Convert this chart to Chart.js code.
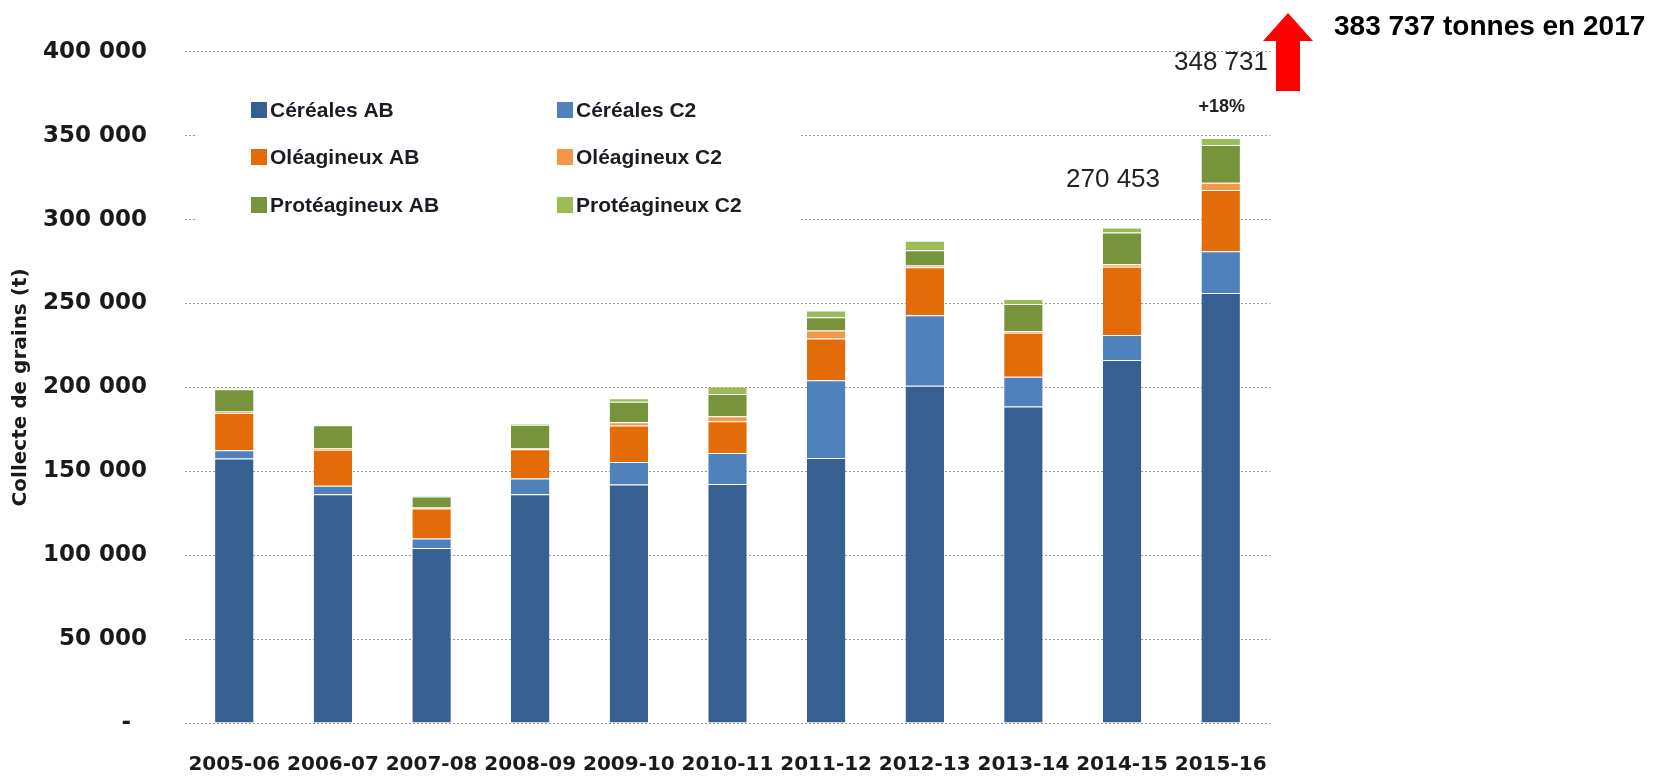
<!DOCTYPE html>
<html>
<head>
<meta charset="utf-8">
<script src="https://cdn.jsdelivr.net/npm/chart.js@4.4.0/dist/chart.umd.min.js"></script>
<style>
  html, body { margin: 0; padding: 0; background: #fff; }
  #wrap { width: 1664px; height: 778px; }
</style>
</head>
<body>
<div id="wrap"><canvas id="collecte" width="1664" height="778"></canvas></div>
<script>
// Collecte de grains bio (t) par campagne
const CAMPAGNES = ["2005-06","2006-07","2007-08","2008-09","2009-10","2010-11","2011-12","2012-13","2013-14","2014-15","2015-16"];

const CEREALES_AB      = [157600, 136300, 104300, 136300, 142200, 142400, 158000, 201000, 188600, 216400, 256200];
const CEREALES_C2      = [  4900,   5100,   5600,   9400,  13400,  18500,  46300,  42000,  17700,  14800,  25000];
const OLEAGINEUX_AB    = [ 22300,  21500,  18000,  17400,  21700,  19000,  24900,  28600,  26200,  40700,  36500];
const OLEAGINEUX_C2    = [   800,   1000,    700,    800,   2000,   2900,   4700,   1000,   1000,   1500,   4300];
const PROTEAGINEUX_AB  = [ 13300,  13500,   6400,  13900,  12200,  13200,   7900,   9200,  16200,  18900,  22400];
const PROTEAGINEUX_C2  = [   500,    500,    500,    500,   2000,   4600,   4100,   5600,   3000,   3000,   4300];

const SERIES_LABELS = ["Céréales AB","Céréales C2","Oléagineux AB","Oléagineux C2","Protéagineux AB","Protéagineux C2"];
const SERIES_COLORS = ["#375F91","#4F81BD","#E36C09","#F79646","#77933C","#9BBB59"];

const Y_TICKS = [0, 50000, 100000, 150000, 200000, 250000, 300000, 350000, 400000];

const LABEL_TOTAL_2016 = "348 731";
const LABEL_HAUSSE     = "+18%";
const LABEL_TOTAL_2015 = "270 453";
const LABEL_2017       = "383 737 tonnes en 2017";

const fmtMilliers = v => String(v).replace(/\B(?=(\d{3})+(?!\d))/g, " ");

const seriesData = [CEREALES_AB, CEREALES_C2, OLEAGINEUX_AB, OLEAGINEUX_C2, PROTEAGINEUX_AB, PROTEAGINEUX_C2];

// légende + annotations dessinées à la main (légende dans la zone du graphique)
const annotations = {
  id: "annotations",
  beforeDatasetsDraw(chart) {
    const { ctx, chartArea: a } = chart;
    ctx.save();
    // fond blanc de la légende (masque les quadrillages)
    ctx.fillStyle = "#fff";
    ctx.fillRect(a.left + 11, 86, 605, 140);

    const colX = [a.left + 66, a.left + 372];
    const rowY = [110, 157, 205];
    ctx.font = "bold 21px 'Liberation Sans', Arial, sans-serif";
    ctx.textBaseline = "middle";
    ctx.textAlign = "left";
    SERIES_LABELS.forEach((lab, i) => {
      const x = colX[i % 2], y = rowY[Math.floor(i / 2)];
      ctx.fillStyle = SERIES_COLORS[i];
      ctx.fillRect(x, y - 8, 16, 16);
      ctx.fillStyle = "#1b1b24";
      ctx.fillText(lab, x + 19, y + 1);
    });
    ctx.restore();
  },
  afterDraw(chart) {
    const { ctx, chartArea: a, scales: { x } } = chart;
    ctx.save();
    ctx.textBaseline = "middle";

    ctx.fillStyle = "#222";
    ctx.font = "26px 'Liberation Sans', Arial, sans-serif";
    ctx.textAlign = "right";
    ctx.fillText(LABEL_TOTAL_2016, a.right - 2, 63);
    ctx.textAlign = "center";
    ctx.fillText(LABEL_TOTAL_2015, x.getPixelForValue(9) - 9, 180);

    ctx.font = "bold 18px 'Liberation Sans', Arial, sans-serif";
    ctx.fillText(LABEL_HAUSSE, x.getPixelForValue(10) + 1, 107);

    // flèche rouge
    const cx = a.right + 18;
    ctx.fillStyle = "#ff0000";
    ctx.beginPath();
    ctx.moveTo(cx, 13);
    ctx.lineTo(cx + 25, 41);
    ctx.lineTo(cx + 12, 41);
    ctx.lineTo(cx + 12, 91);
    ctx.lineTo(cx - 12, 91);
    ctx.lineTo(cx - 12, 41);
    ctx.lineTo(cx - 25, 41);
    ctx.closePath();
    ctx.fill();

    ctx.fillStyle = "#000";
    ctx.font = "bold 28px 'Liberation Sans', Arial, sans-serif";
    ctx.textAlign = "left";
    ctx.fillText(LABEL_2017, cx + 46, 27);
    ctx.restore();
  }
};

new Chart(document.getElementById("collecte"), {
  type: "bar",
  data: {
    labels: CAMPAGNES,
    datasets: seriesData.map((d, i) => ({
      label: SERIES_LABELS[i],
      data: d,
      backgroundColor: SERIES_COLORS[i],
      borderColor: "rgba(255,255,255,0.25)",
      borderWidth: { top: 1 },
      borderSkipped: false,
      categoryPercentage: 1,
      barPercentage: 0.39,
    }))
  },
  options: {
    responsive: false,
    animation: false,
    devicePixelRatio: 1,
    layout: { padding: { top: 47, right: 394, left: 0, bottom: 0 } },
    plugins: { legend: { display: false }, tooltip: { enabled: false } },
    scales: {
      x: {
        stacked: true,
        grid: { display: false },
        border: { display: false },
        ticks: { color: "#1a1a1a", padding: 22, font: { family: "'DejaVu Sans'", weight: "bold", size: 20 }, maxRotation: 0 },
        afterFit: s => { s.height = 55; }
      },
      y: {
        stacked: true,
        min: 0, max: 400000,
        afterBuildTicks: s => { s.ticks = Y_TICKS.map(v => ({ value: v })); },
        grid: { color: "#999", lineWidth: 1, drawTicks: false },
        border: { display: false, dash: [2, 2] },
        ticks: {
          color: "#1a1a1a", padding: 38,
          font: { family: "'DejaVu Sans'", weight: "bold", size: 23 },
          callback: v => v === 0 ? "-  " : fmtMilliers(v)
        },
        title: {
          display: true, text: "Collecte de grains (t)", color: "#1a1a1a",
          font: { family: "'DejaVu Sans'", weight: "bold", size: 20 },
          padding: { top: 9 }
        },
        afterFit: s => { s.width = 185; }
      }
    }
  },
  plugins: [annotations]
});
</script>
</body>
</html>
